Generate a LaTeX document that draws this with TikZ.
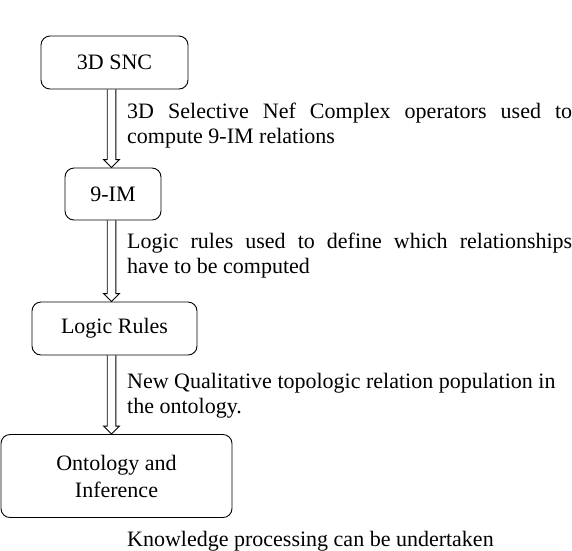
\documentclass[tikz,border=0pt]{standalone}
\usepackage{fontspec}
\setmainfont{Liberation Serif}
\usetikzlibrary{calc}
\tikzset{
  box/.style={draw, line width=0.9pt, rounded corners=9pt, inner sep=0pt, align=center,
    font=\fontsize{22}{27}\selectfont},
  lbl/.style={inner sep=0pt, anchor=base west, align=left, font=\fontsize{22}{25}\selectfont},
  harrow/.style={draw, line width=0.9pt, line join=miter},
}
\newcommand\hollowarrow[3]{%
  \path[harrow] let \p1=($(#1)+(#3,0)$), \p2=(#2) in
    (\x1-4.3pt,\y1) -- (\x1-4.3pt,\y2+8pt) -- (\x1-8pt,\y2+8pt) -- (\x1,\y2)
    -- (\x1+8pt,\y2+8pt) -- (\x1+4.3pt,\y2+8pt) -- (\x1+4.3pt,\y1);}
\begin{document}
\begin{tikzpicture}[x=1pt,y=-1pt]
\useasboundingbox (0,0) rectangle (572,550);
\node[box, minimum width=147pt, minimum height=53pt] (snc) at (114.5,62.5) {3D SNC};
\node[box, minimum width=96pt, minimum height=52pt] (nim) at (113,194) {9-IM};
\node[box, minimum width=165pt, minimum height=53pt] (lr) at (114.5,328.5) {Logic Rules};
\node[box, minimum width=231pt, minimum height=83pt] (ont) at (116.5,476) {Ontology and\\Inference};
\hollowarrow{snc.south}{nim.north}{-3}
\hollowarrow{nim.south}{lr.north}{-1.5}
\hollowarrow{lr.south}{ont.north}{-3}
\node[lbl] (l1) at (127,143) {\makebox[445pt][s]{3D Selective Nef Complex operators used to}\\compute 9-IM relations};
\node[lbl] (l2) at (127,273) {\makebox[445pt][s]{Logic rules used to define which relationships}\\have to be computed};
\node[lbl] (l3) at (127,413) {New Qualitative topologic relation population in\\the ontology.};
\node[lbl] (l4) at (127,546) {Knowledge processing can be undertaken};
\end{tikzpicture}
\end{document}
